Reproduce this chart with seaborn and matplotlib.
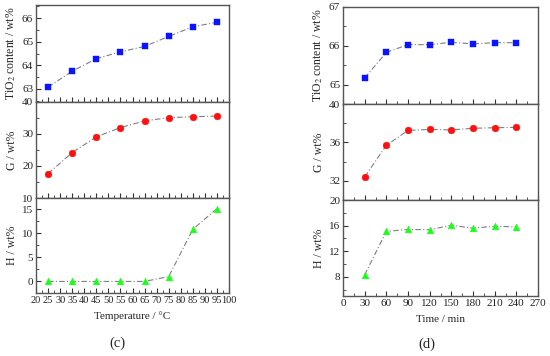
import matplotlib
matplotlib.use("Agg")
import matplotlib.pyplot as plt
import seaborn as sns
from matplotlib.ticker import MultipleLocator

# panel (c): temperature series
temp_c = [25, 35, 45, 55, 65, 75, 85, 95]
tio2_c = [63.08, 63.75, 64.28, 64.57, 64.80, 65.22, 65.63, 65.82]
g_c = [17.6, 24.2, 29.1, 32.0, 34.1, 35.1, 35.4, 35.6]
h_c = [0.0, 0.0, 0.0, 0.0, 0.0, 1.0, 10.8, 15.1]

# panel (d): time series
time_d = [30, 60, 90, 120, 150, 180, 210, 240]
tio2_d = [65.17, 65.83, 66.03, 66.03, 66.09, 66.05, 66.08, 66.08]
g_d = [32.4, 35.7, 37.25, 37.35, 37.3, 37.47, 37.53, 37.57]
h_d = [8.3, 15.1, 15.4, 15.35, 16.05, 15.6, 15.9, 15.8]

sns.set_style("white")
plt.rcParams["font.family"] = ["Liberation Serif", "DejaVu Serif"]
plt.rcParams["mathtext.fontset"] = "stix"
plt.rcParams["xtick.direction"] = "in"
plt.rcParams["ytick.direction"] = "in"

fig = plt.figure(figsize=(5.5, 3.56), dpi=100)

line_kw = dict(color="#808080", linewidth=0.8, linestyle=(0, (5, 2, 1, 2)))


def panel(rect, x, y, marker, mcolor, ylim, ymaj, ymin, xlim, xmaj, xmin, ylabel, show_x, xsize=8):
    ax = fig.add_axes(rect)
    sns.lineplot(x=x, y=y, ax=ax, **line_kw)
    sns.scatterplot(x=x, y=y, ax=ax, marker=marker, color=mcolor, s=24,
                    edgecolor=mcolor, linewidth=0.3, zorder=3)
    ax.set_xlim(*xlim)
    ax.set_ylim(*ylim)
    ax.xaxis.set_major_locator(MultipleLocator(xmaj))
    ax.xaxis.set_minor_locator(MultipleLocator(xmin))
    ax.yaxis.set_major_locator(MultipleLocator(ymaj))
    ax.yaxis.set_minor_locator(MultipleLocator(ymin))
    ax.tick_params(which="major", length=3.5, width=0.8, labelsize=8, pad=2,
                   colors="#333333", labelcolor="#222222")
    ax.tick_params(axis="x", labelsize=xsize)
    ax.tick_params(which="minor", length=2, width=0.6, colors="#333333")
    ax.tick_params(axis="y", which="both", left=True)
    ax.tick_params(axis="x", which="both", bottom=True, labelbottom=show_x)
    for s in ax.spines.values():
        s.set_color("#555555")
        s.set_linewidth(1.0)
    ax.set_ylabel(ylabel, fontsize=8.5, labelpad=3)
    ax.set_xlabel("")
    return ax


# left column (c)
lx, lw = 36 / 550, (229 - 36) / 550
ly = [1 - 5 / 356, 1 - 102 / 356, 1 - 198 / 356, 1 - 293 / 356]
panel([lx, ly[1], lw, ly[0] - ly[1]], temp_c, tio2_c, "s", "#0a14ff",
      (62.45, 66.55), 1, 0.5, (20, 100), 5, 2.5, r"TiO$_2$ content / wt%", False)
panel([lx, ly[2], lw, ly[1] - ly[2]], temp_c, g_c, "o", "#ff1010",
      (10, 40), 10, 5, (20, 100), 5, 2.5, "G / wt%", False)
axc = panel([lx, ly[3], lw, ly[2] - ly[3]], temp_c, h_c, "^", "#1aff1a",
            (-2.4, 17.3), 5, 2.5, (20, 100), 5, 2.5, "H / wt%", True, xsize=7.5)
axc.set_xlabel("Temperature / °C", fontsize=8, labelpad=5)

# right column (d)
rx, rw = 343 / 550, (538 - 343) / 550
ry = [1 - 7 / 356, 1 - 104 / 356, 1 - 200 / 356, 1 - 296 / 356]
panel([rx, ry[1], rw, ry[0] - ry[1]], time_d, tio2_d, "s", "#0a14ff",
      (64.5, 67), 1, 0.5, (0, 270), 30, 15, r"TiO$_2$ content / wt%", False)
panel([rx, ry[2], rw, ry[1] - ry[2]], time_d, g_d, "o", "#ff1010",
      (30, 40), 4, 2, (0, 270), 30, 15, "G / wt%", False)
axd = panel([rx, ry[3], rw, ry[2] - ry[3]], time_d, h_d, "^", "#1aff1a",
            (5, 20), 4, 2, (0, 270), 30, 15, "H / wt%", True)
axd.set_xlabel("Time / min", fontsize=8, labelpad=5)

fig.text(117 / 550, 1 - 343 / 356, "(c)", ha="center", va="center", fontsize=10.5)
fig.text(427 / 550, 1 - 344 / 356, "(d)", ha="center", va="center", fontsize=10.5)

fig.savefig("out.png", dpi=100)
